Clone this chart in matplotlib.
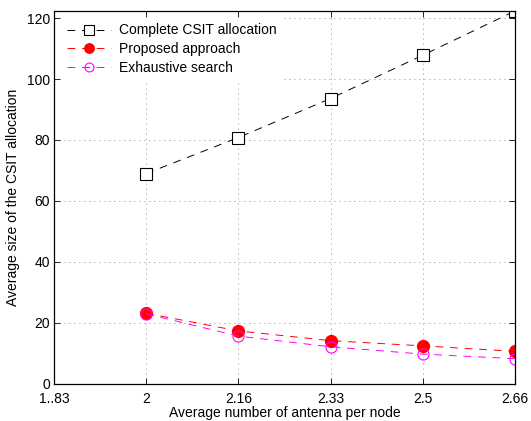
import numpy as np
import matplotlib.pyplot as plt

plt.rcParams['font.family'] = ['Liberation Sans', 'DejaVu Sans']
plt.rcParams['font.size'] = 10

# data
positions = [2, 3, 4, 5, 6]
tick_pos = [1, 2, 3, 4, 5, 6]
tick_labels = ['1..83', '2', '2.16', '2.33', '2.5', '2.66']
complete = [69.0, 80.8, 93.6, 107.8, 122.3]
proposed = [23.2, 17.4, 14.2, 12.5, 10.7]
exhaustive = [23.0, 15.7, 12.2, 9.8, 8.3]

fig = plt.figure(figsize=(5.31, 4.21), dpi=100)
ax = fig.add_axes([0.1017, 0.0879, 0.868, 0.886])

dash = (0, (8, 7))
ax.plot(positions, complete, color='black', linestyle=dash, lw=0.7,
        marker='s', markersize=8.5, markerfacecolor='white',
        markeredgecolor='black', markeredgewidth=0.8,
        label='Complete CSIT allocation')
ax.plot(positions, proposed, color='red', linestyle=dash, lw=0.7,
        marker='o', markersize=8.5, markerfacecolor='red',
        markeredgecolor='red', label='Proposed approach')
ax.plot(positions, exhaustive, color='magenta', linestyle=dash, lw=0.7,
        marker='o', markersize=8, markerfacecolor='none',
        markeredgecolor='magenta', markeredgewidth=0.8,
        label='Exhaustive search')

ax.set_xlim(1, 6)
ax.set_ylim(0, 122.3)
ax.set_xticks(tick_pos)
ax.set_xticklabels(tick_labels)
ax.set_yticks([0, 20, 40, 60, 80, 100, 120])
ax.grid(True, linestyle=(0, (1, 5)), color='black', lw=0.6, alpha=0.6)
ax.tick_params(direction='in', top=True, right=True, length=4, width=0.6,
               labelsize=10, pad=3)
ax.tick_params(axis='x', pad=6)
for s in ax.spines.values():
    s.set_linewidth(0.9)

ax.set_xlabel('Average number of antenna per node', fontsize=10, labelpad=0)
ax.set_ylabel('Average size of the CSIT allocation', fontsize=10, labelpad=5)

leg = ax.legend(loc='upper left', frameon=True, fancybox=False, fontsize=10,
                handlelength=3.2, handletextpad=0.6, labelspacing=0.35,
                borderaxespad=0.5, markerscale=0.8)
leg.get_frame().set_edgecolor('white')
leg.get_frame().set_alpha(1)

fig.savefig('out.png', dpi=100)
